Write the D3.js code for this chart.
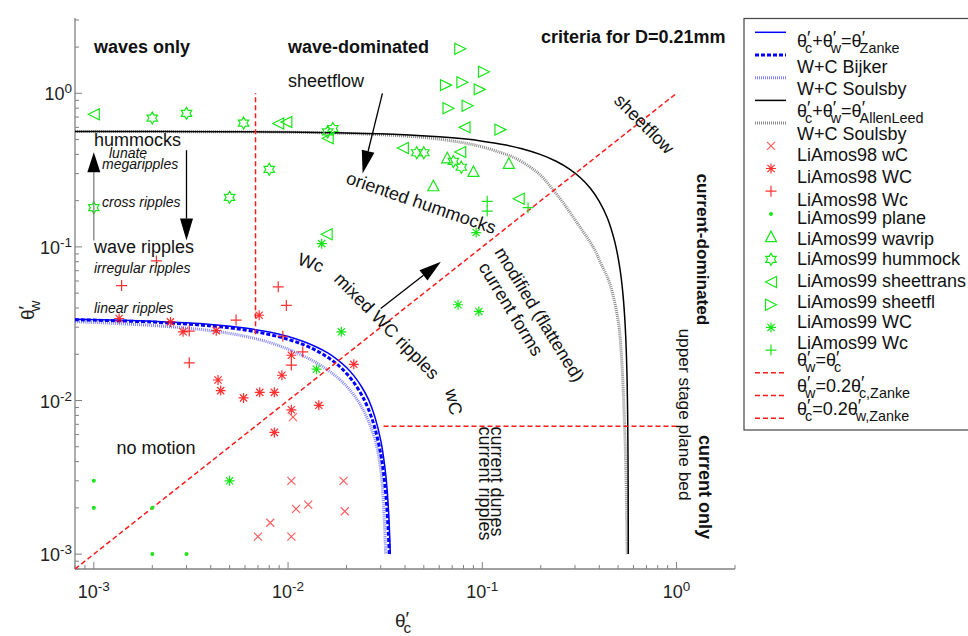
<!DOCTYPE html>
<html><head><meta charset="utf-8">
<script src="https://cdn.jsdelivr.net/npm/d3@7"></script>
<style>
html,body{margin:0;padding:0;background:#fff;}
svg{display:block;font-family:"Liberation Sans",Arial,Helvetica,sans-serif;}
</style></head><body>
<svg id="chart" width="968" height="636"></svg>
<script>
// ---------------- DATA ----------------
const majorTicks = [0.001, 0.01, 0.1, 1];
const majorTickExp = ["-3", "-2", "-1", "0"];

// threshold curves (theta'_c , theta'_w)
const zankeTc = [0.0008,0.002,0.004,0.006,0.008,0.010,0.012,0.014,0.016,0.018,0.020,0.022,0.024,0.026,0.028,0.030,0.031,0.032,0.033,0.0336];
const zankeTw = [0.0338,0.0328,0.0313,0.0296,0.0279,0.0261,0.0242,0.0223,0.0204,0.0184,0.0164,0.0143,0.0122,0.0101,0.0078,0.0055,0.0043,0.0031,0.0018,0.001];
const bijkerTc = [0.0008,0.002,0.004,0.006,0.008,0.010,0.012,0.014,0.016,0.018,0.020,0.022,0.024,0.026,0.028,0.030,0.031,0.032,0.0328,0.0332];
const bijkerTw = [0.0336,0.0324,0.0306,0.0288,0.0269,0.0250,0.0231,0.0211,0.0191,0.0171,0.0150,0.0129,0.0108,0.0087,0.0066,0.0045,0.0034,0.0023,0.0014,0.001];
const soulsbyTc = [0.0008,0.002,0.004,0.006,0.008,0.010,0.012,0.014,0.016,0.018,0.020,0.022,0.024,0.026,0.028,0.0295,0.0305,0.031,0.0315,0.0318];
const soulsbyTw = [0.0326,0.0308,0.0285,0.0262,0.0239,0.0216,0.0195,0.0176,0.0158,0.0141,0.0124,0.0107,0.0090,0.0073,0.0056,0.0041,0.0029,0.0021,0.0014,0.001];
const allenTc = [0.0008,0.005,0.01,0.02,0.04,0.06,0.08,0.10,0.13,0.16,0.20,0.24,0.28,0.32,0.36,0.40,0.44,0.48,0.51,0.53,0.545,0.555,0.56,0.563,0.564,0.5645];
const allenTw = [0.5646,0.5622,0.5589,0.552,0.537,0.521,0.505,0.488,0.462,0.435,0.3985,0.361,0.322,0.282,0.241,0.198,0.155,0.109,0.0737,0.0491,0.0295,0.0158,0.0084,0.0036,0.0019,0.001];
const soulsbySfTc = [0.0008,0.01,0.02,0.04,0.06,0.08,0.10,0.125,0.145,0.175,0.20,0.231,0.26,0.293,0.33,0.372,0.41,0.453,0.50,0.52,0.542,0.55,0.557];
const soulsbySfTw = [0.5646,0.558,0.548,0.527,0.503,0.476,0.448,0.410,0.383,0.333,0.292,0.236,0.195,0.157,0.126,0.100,0.077,0.0578,0.0334,0.020,0.0061,0.003,0.001];
const equalTc = [0.0008, 1], equalTw = [0.0008, 1];
const w02Tc = [0.031, 1], w02Tw = [0.0068, 0.0068];
const c02Tc = [0.0068, 0.0068], c02Tw = [0.027, 1];

// measurements
const liAmos98wC_c = [0.0104,0.0193,0.0127,0.0110,0.0196,0.0081,0.0070,0.0104,0.0106];
const liAmos98wC_w = [0.0030,0.0030,0.0021,0.00197,0.0019,0.0016,0.0013,0.0013,0.0078];
const liAmos98WC_c = [0.00135,0.00248,0.00288,0.00427,0.00436,0.0045,0.0059,0.00715,0.0085,0.0093,0.0104,0.0085,0.0144,0.0218,0.0071,0.0104];
const liAmos98WC_w = [0.0342,0.0325,0.0280,0.0285,0.0136,0.0116,0.0104,0.0113,0.0113,0.0146,0.0087,0.0062,0.0093,0.0172,0.0359,0.0197];
const liAmos98Wc_c = [0.0021,0.00139,0.0089,0.0098,0.0054,0.0031,0.0031,0.0094,0.0119,0.0104];
const liAmos98Wc_w = [0.081,0.056,0.055,0.0416,0.0334,0.0176,0.0283,0.0262,0.0207,0.0170];
const plane99_c = [0.001,0.001,0.002,0.002,0.003];
const plane99_w = [0.003,0.002,0.002,0.001,0.001];
const wavrip99_c = [0.066,0.090,0.056,0.137];
const wavrip99_w = [0.38,0.31,0.25,0.35];
const hummock99_c = [0.002,0.003,0.0059,0.001,0.005,0.008,0.016,0.017,0.046,0.050,0.071,0.078];
const hummock99_w = [0.69,0.74,0.64,0.18,0.21,0.32,0.56,0.59,0.41,0.41,0.36,0.33];
const sheettrans99_c = [0.001,0.0089,0.0098,0.016,0.0158,0.039,0.081,0.077,0.154];
const sheettrans99_w = [0.73,0.635,0.65,0.51,0.121,0.44,0.60,0.415,0.206];
const sheetfl99_c = [0.077,0.102,0.065,0.079,0.097,0.067,0.084,0.124];
const sheetfl99_w = [1.95,1.38,1.13,1.18,1.06,0.80,0.83,0.58];
const WC99_c = [0.0149,0.093,0.075,0.096,0.0188,0.014,0.005];
const WC99_w = [0.105,0.124,0.042,0.038,0.028,0.016,0.003];
const Wc99_c = [0.106,0.106,0.172];
const Wc99_w = [0.198,0.171,0.18];

// arrows (theta'_c, theta'_w) from -> to
const arrowFrom = [[0.001,0.110],[0.003,0.426],[0.0306,1.0],[0.030,0.0397]];
const arrowTo   = [[0.001,0.413],[0.003,0.110],[0.0242,0.300],[0.0612,0.0799]];

// ---------------- STYLE / LAYOUT ----------------
const RED = "#ff1a1a", GREEN = "#19e619", BLUE = "#0000ff", LIGHTBLUE = "#5a5aff";
const svg = d3.select("#chart");
const x = d3.scaleLog().domain([0.0008, 2]).range([75, 735]);
const y = d3.scaleLog().domain([0.0008, 3]).range([569, 20]);

function parseRich(str) {
  const segs = []; let buf = ""; let i = 0;
  const flush = () => { if (buf) { segs.push({type:"n", text:buf}); buf = ""; } };
  while (i < str.length) {
    const ch = str[i];
    if (ch === "^" || ch === "_") {
      flush();
      let t;
      if (str[i+1] === "{") { const j = str.indexOf("}", i); t = str.slice(i+2, j); i = j + 1; }
      else { t = str[i+1]; i += 2; }
      segs.push({type: ch === "^" ? "sup" : "sub", text: t});
    } else { buf += ch; i++; }
  }
  flush();
  return segs;
}
function rich(textSel, str, size) {
  let cur = 0, prevSup = false;
  parseRich(str).forEach(s => {
    const isPrime = s.text === "′";
    let off = 0, fs = size;
    if (s.type === "sup") { off = isPrime ? -0.12*size : -0.38*size; fs = isPrime ? size : size*0.75; }
    else if (s.type === "sub") { off = 0.34*size; fs = size*0.8; }
    const t = textSel.append("tspan").text(s.text).attr("font-size", fs);
    if (off !== cur) t.attr("dy", off - cur);
    if (s.type === "sub" && prevSup) t.attr("dx", -size*0.3);
    cur = off; prevSup = s.type === "sup";
  });
}

// ---------------- AXES ----------------
const axisG = svg.append("g");
const axisColor = "#808080";
axisG.append("line").attr("x1", 75).attr("x2", 735).attr("y1", 569).attr("y2", 569)
  .attr("stroke", axisColor).attr("stroke-width", 1.3);
axisG.append("line").attr("x1", 75).attr("x2", 75).attr("y1", 569).attr("y2", 18)
  .attr("stroke", axisColor).attr("stroke-width", 1.3);
const isMajor = v => Math.abs(Math.log10(v) - Math.round(Math.log10(v))) < 1e-6;
x.ticks().forEach(v => {
  const len = isMajor(v) ? 7 : 4;
  axisG.append("line").attr("x1", x(v)).attr("x2", x(v)).attr("y1", 569).attr("y2", 569 - len)
    .attr("stroke", axisColor).attr("stroke-width", 1);
});
y.ticks().forEach(v => {
  const len = isMajor(v) ? 7 : 4;
  axisG.append("line").attr("y1", y(v)).attr("y2", y(v)).attr("x1", 75).attr("x2", 75 + len)
    .attr("stroke", axisColor).attr("stroke-width", 1);
});
majorTicks.forEach((v, i) => {
  const tx = axisG.append("text").attr("x", x(v)).attr("y", 598).attr("text-anchor", "middle")
    .attr("fill", "#222");
  rich(tx, "10^{" + majorTickExp[i] + "}", 18);
  const ty = axisG.append("text").attr("x", 72).attr("y", y(v) + 7).attr("text-anchor", "end")
    .attr("fill", "#222");
  rich(ty, "10^{" + majorTickExp[i] + "}", 18);
});
const xl = axisG.append("text").attr("x", 395).attr("y", 627).attr("fill", "#222");
rich(xl, "θ^′_c", 19);
const yl = axisG.append("text").attr("transform", "translate(34,320) rotate(-90)").attr("fill", "#222");
rich(yl, "θ^′_w", 19);

// ---------------- CURVES ----------------
const plot = svg.append("g");
const lineGen = d3.line().x(d => x(d[0])).y(d => y(d[1])).curve(d3.curveCatmullRom.alpha(0.5));
const zip = (a, b) => a.map((v, i) => [v, b[i]]);
function curve(tc, tw, stroke, width, dash, opacity) {
  plot.append("path").attr("d", lineGen(zip(tc, tw))).attr("fill", "none")
    .attr("stroke", stroke).attr("stroke-width", width)
    .attr("stroke-dasharray", dash || null).attr("stroke-opacity", opacity || 1);
}
curve(soulsbyTc, soulsbyTw, LIGHTBLUE, 3, "1,1", 0.75);
curve(bijkerTc, bijkerTw, BLUE, 3, "4,2");
curve(zankeTc, zankeTw, BLUE, 1.5);
curve(soulsbySfTc, soulsbySfTw, "#8a8a8a", 3, "1,1");
curve(allenTc, allenTw, "#000", 1.5);
curve(equalTc, equalTw, RED, 1.5, "5,3");
curve(w02Tc, w02Tw, RED, 1.5, "5,3");
curve(c02Tc, c02Tw, RED, 1.5, "5,3");

// ---------------- MARKERS ----------------
function markerPath(type) {
  switch (type) {
    case "x": { const s = 4; return `M${-s},${-s}L${s},${s}M${-s},${s}L${s},${-s}`; }
    case "star": { const s = 5, d = 3.6; return `M0,${-s}V${s}M${-s},0H${s}M${-d},${-d}L${d},${d}M${-d},${d}L${d},${-d}`; }
    case "plus": { const s = 5.5; return `M0,${-s}V${s}M${-s},0H${s}`; }
    case "triU": return "M0,-5.5L5.5,5L-5.5,5Z";
    case "triL": return "M-5.5,0L5.5,-5.5L5.5,5.5Z";
    case "triR": return "M5.5,0L-5.5,-5.5L-5.5,5.5Z";
    case "hex": {
      const R = 6, r = 6 / Math.sqrt(3); let p = "";
      for (let k = 0; k < 12; k++) {
        const a = -Math.PI / 2 + k * Math.PI / 6, rr = k % 2 ? r : R;
        p += (k ? "L" : "M") + (rr * Math.cos(a)).toFixed(2) + "," + (rr * Math.sin(a)).toFixed(2);
      }
      return p + "Z";
    }
  }
}
function drawMarker(g, type, px, py, color, opacity) {
  if (type === "dot") {
    g.append("circle").attr("cx", px).attr("cy", py).attr("r", 2).attr("fill", color);
    return;
  }
  g.append("path").attr("d", markerPath(type)).attr("transform", `translate(${px},${py})`)
    .attr("fill", "none").attr("stroke", color).attr("stroke-width", 1.2)
    .attr("stroke-opacity", opacity || 1);
}
const series = [
  {c: liAmos98wC_c, w: liAmos98wC_w, type: "x", color: RED, op: 0.7},
  {c: liAmos98WC_c, w: liAmos98WC_w, type: "star", color: RED, op: 0.9},
  {c: liAmos98Wc_c, w: liAmos98Wc_w, type: "plus", color: RED, op: 0.9},
  {c: plane99_c, w: plane99_w, type: "dot", color: GREEN},
  {c: wavrip99_c, w: wavrip99_w, type: "triU", color: GREEN},
  {c: hummock99_c, w: hummock99_w, type: "hex", color: GREEN},
  {c: sheettrans99_c, w: sheettrans99_w, type: "triL", color: GREEN},
  {c: sheetfl99_c, w: sheetfl99_w, type: "triR", color: GREEN},
  {c: WC99_c, w: WC99_w, type: "star", color: GREEN},
  {c: Wc99_c, w: Wc99_w, type: "plus", color: GREEN}
];
const mg = svg.append("g");
series.forEach(s => s.c.forEach((cv, i) => drawMarker(mg, s.type, x(cv), y(s.w[i]), s.color, s.op)));

// ---------------- ARROWS ----------------
const ag = svg.append("g");
const arrowLineColor = ["#808080", "#000", "#000", "#000"];
const headLen = [20, 22, 23, 22], headHalf = [6.5, 6.5, 6.5, 6.5];
arrowFrom.forEach((f, i) => {
  const x0 = x(f[0]), y0 = y(f[1]), x1 = x(arrowTo[i][0]), y1 = y(arrowTo[i][1]);
  const dx = x1 - x0, dy = y1 - y0, L = Math.hypot(dx, dy), ux = dx / L, uy = dy / L;
  const bx = x1 - ux * headLen[i], by = y1 - uy * headLen[i];
  ag.append("line").attr("x1", x0).attr("y1", y0).attr("x2", bx).attr("y2", by)
    .attr("stroke", arrowLineColor[i]).attr("stroke-width", 1.3);
  const h = headHalf[i];
  ag.append("path").attr("d", `M${x1},${y1}L${bx - uy * h},${by + ux * h}L${bx + uy * h},${by - ux * h}Z`)
    .attr("fill", "#000");
});

// ---------------- ANNOTATIONS ----------------
const tg = svg.append("g").attr("fill", "#111");
const labels = [
  {t: "waves only", x: 94, y: 53, s: 18, w: "bold"},
  {t: "wave-dominated", x: 288, y: 53, s: 18, w: "bold"},
  {t: "criteria for D=0.21mm", x: 541, y: 43, s: 18, w: "bold"},
  {t: "sheetflow", x: 288, y: 87, s: 18},
  {t: "hummocks", x: 94, y: 145.5, s: 18},
  {t: "lunate", x: 109, y: 157.8, s: 14, it: true},
  {t: "megaripples", x: 102, y: 168.8, s: 14, it: true},
  {t: "cross ripples", x: 102, y: 207.3, s: 14, it: true},
  {t: "wave ripples", x: 94, y: 252.5, s: 18},
  {t: "irregular ripples", x: 94, y: 273.3, s: 14, it: true},
  {t: "linear ripples", x: 94, y: 312.5, s: 14, it: true},
  {t: "no motion", x: 116.5, y: 454, s: 18},
  {t: "oriented hummocks", x: 345, y: 183, s: 18, r: 19},
  {t: "Wc", x: 296.5, y: 264, s: 18, r: 20},
  {t: "mixed WC ripples", x: 333, y: 280, s: 18, r: 45.5},
  {t: "wC", x: 445, y: 390.5, s: 18, r: 78},
  {t: "modified (flattened)", x: 494, y: 252, s: 18, r: 58.5},
  {t: "current forms", x: 478, y: 267, s: 18, r: 58.5},
  {t: "current dunes", x: 491, y: 426.5, s: 18, r: 90},
  {t: "current ripples", x: 478.5, y: 426.5, s: 18, r: 90},
  {t: "sheetflow", x: 613, y: 101.5, s: 18, r: 45},
  {t: "current-dominated", x: 697, y: 173.5, s: 17.2, r: 90, w: "bold"},
  {t: "upper stage plane bed", x: 679, y: 328.5, s: 17.3, r: 90},
  {t: "current only", x: 698.5, y: 435, s: 18, r: 90, w: "bold"}
];
labels.forEach(l => {
  const t = tg.append("text").text(l.t).attr("font-size", l.s)
    .attr("font-weight", l.w || "normal").attr("font-style", l.it ? "italic" : "normal");
  if (l.r) t.attr("transform", `translate(${l.x},${l.y}) rotate(${l.r})`);
  else t.attr("x", l.x).attr("y", l.y);
});

// ---------------- LEGEND ----------------
const legendLabels = [
  "θ^′_c+θ^′_w=θ^′_{Zanke}", "W+C Bijker", "W+C Soulsby", "θ^′_c+θ^′_w=θ^′_{AllenLeed}", "W+C Soulsby",
  "LiAmos98 wC", "LiAmos98 WC", "LiAmos98 Wc", "LiAmos99 plane", "LiAmos99 wavrip",
  "LiAmos99 hummock", "LiAmos99 sheettrans", "LiAmos99 sheetfl", "LiAmos99 WC", "LiAmos99 Wc",
  "θ^′_w=θ^′_c", "θ^′_w=0.2θ^′_{c,Zanke}", "θ^′_c=0.2θ^′_{w,Zanke}"
];
const legendTextY = [46.5, 72.7, 95, 116.5, 140, 161, 183.3, 206, 224.3, 245, 265, 287.3, 308.3, 327.7, 349.3, 366, 391.5, 414.5];
const legendKinds = [
  {k: "line", c: BLUE, w: 1.5}, {k: "line", c: BLUE, w: 3, d: "4,2"}, {k: "line", c: LIGHTBLUE, w: 3, d: "1,1", o: 0.75},
  {k: "line", c: "#000", w: 1.5}, {k: "line", c: "#8a8a8a", w: 3, d: "1,1"},
  {k: "m", t: "x", c: RED, o: 0.7}, {k: "m", t: "star", c: RED, o: 0.9}, {k: "m", t: "plus", c: RED, o: 0.9},
  {k: "m", t: "dot", c: GREEN}, {k: "m", t: "triU", c: GREEN}, {k: "m", t: "hex", c: GREEN},
  {k: "m", t: "triL", c: GREEN}, {k: "m", t: "triR", c: GREEN}, {k: "m", t: "star", c: GREEN},
  {k: "m", t: "plus", c: GREEN},
  {k: "line", c: RED, w: 1.5, d: "5,3"}, {k: "line", c: RED, w: 1.5, d: "5,3"}, {k: "line", c: RED, w: 1.5, d: "5,3"}
];
const lg = svg.append("g");
lg.append("rect").attr("x", 744).attr("y", 18.5).attr("width", 240).attr("height", 411.5)
  .attr("fill", "#fff").attr("stroke", "#444").attr("stroke-width", 1.2);
legendLabels.forEach((lab, i) => {
  const sy = 32.3 + 22.7 * i;
  const k = legendKinds[i];
  if (k.k === "line") {
    lg.append("line").attr("x1", 755).attr("x2", 786).attr("y1", sy).attr("y2", sy)
      .attr("stroke", k.c).attr("stroke-width", k.w).attr("stroke-dasharray", k.d || null)
      .attr("stroke-opacity", k.o || 1);
  } else {
    drawMarker(lg, k.t, 771, sy, k.c, k.o);
  }
  const t = lg.append("text").attr("x", 797).attr("y", legendTextY[i]).attr("fill", "#111");
  rich(t, lab, 18);
});
</script>
</body></html>
